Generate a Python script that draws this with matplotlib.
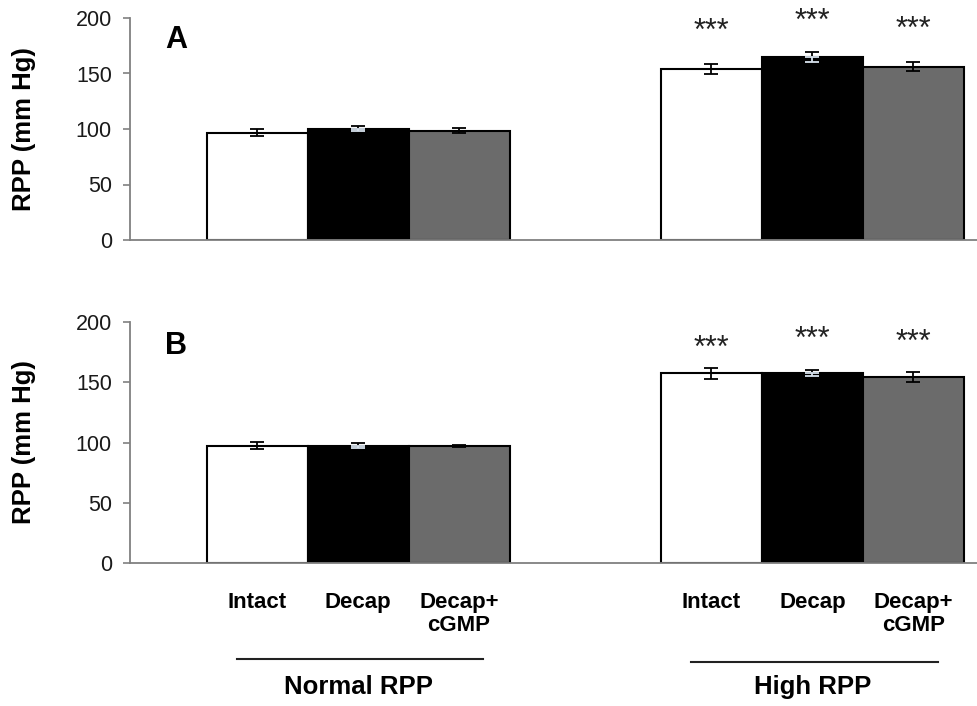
import matplotlib
matplotlib.use('Agg')
from matplotlib import pyplot
from matplotlib import transforms

pyplot.rcParams['font.family'] = ['Liberation Sans', 'DejaVu Sans']

groups = ['Normal RPP', 'High RPP']
treatments = ['Intact', 'Decap', 'Decap+\ncGMP']
colors = ['white', 'black', '#6b6b6b']

# panel A
a_normal = [96.7, 100.3, 98.5]
a_normal_err = [3.0, 2.5, 2.5]
a_high = [154.0, 165.0, 156.0]
a_high_err = [4.5, 4.5, 4.0]
a_star_gap = [29, 27, 29]

# panel B
b_normal = [97.4, 97.5, 97.2]
b_normal_err = [3.0, 2.0, 1.0]
b_high = [157.4, 158.0, 154.6]
b_high_err = [4.4, 2.5, 4.0]
b_star_gap = [16, 25, 24]

yticks = [0, 50, 100, 150, 200]
normal_pos = [1, 2, 3]
high_pos = [5.5, 6.5, 7.5]

W, H = 977, 706
fig = pyplot.figure(figsize=(W / 100, H / 100), dpi=100)


def px_axes(left, top, right, bottom):
    return fig.add_axes([left / W, 1 - bottom / H, (right - left) / W, (bottom - top) / H])


def draw_panel(ax, normal, normal_err, high, high_err, star_gap, letter):
    for pos, vals, errs in [(normal_pos, normal, normal_err), (high_pos, high, high_err)]:
        for x, v, e, c in zip(pos, vals, errs, colors):
            ax.bar(x, v, width=1.0, color=c, edgecolor='black', linewidth=1.5, zorder=2)
            ax.errorbar(x, v, yerr=[[0], [e]], color='black', capsize=5, capthick=1.3,
                        elinewidth=1.3, zorder=3)
            low_col = '#d8e2ee' if c == 'black' else 'black'
            ax.errorbar(x, v, yerr=[[e], [0]], color=low_col, capsize=5, capthick=1.3,
                        elinewidth=1.3, zorder=3)
    for x, v, e, g in zip(high_pos, high, high_err, star_gap):
        ax.text(x, v + e + g, '***', ha='center', va='center', fontsize=22,
                color='#222222', clip_on=False)
    ax.set_ylim(0, 200)
    ax.set_xlim(-0.26, 8.13)
    ax.set_yticks(yticks)
    ax.set_xticks([])
    for s in ['top', 'right']:
        ax.spines[s].set_visible(False)
    for s in ['left', 'bottom']:
        ax.spines[s].set_color('#808080')
        ax.spines[s].set_linewidth(1.3)
    ax.tick_params(axis='y', direction='out', length=5, width=1.2, color='#808080',
                   labelsize=15.5, pad=8, labelcolor='#1a1a1a')
    ax.set_ylabel('RPP (mm Hg)', fontsize=18.5, fontweight='bold')
    ax.yaxis.set_label_coords(-0.111, 0.5)
    ax.text(0.054, 0.9, letter, transform=ax.transAxes, fontsize=22, fontweight='bold',
            ha='center', va='center')


ax_a = px_axes(130, 18, 977, 240)
draw_panel(ax_a, a_normal, a_normal_err, a_high, a_high_err, a_star_gap, 'A')

ax_b = px_axes(130, 322, 977, 563)
draw_panel(ax_b, b_normal, b_normal_err, b_high, b_high_err, b_star_gap, 'B')

# category labels and group brackets below panel B
trans = transforms.blended_transform_factory(ax_b.transData, fig.transFigure)
for pos in [normal_pos, high_pos]:
    for x, lab in zip(pos, treatments):
        fig.text(x, 1 - 592 / H, lab, transform=trans, ha='center', va='top',
                 fontsize=16, fontweight='bold', linespacing=1.15)

for pos, name, ly in [(normal_pos, groups[0], 659), (high_pos, groups[1], 662)]:
    ax_b.plot([pos[0] - 0.2, pos[-1] + 0.24], [1 - ly / H] * 2, transform=trans,
              color='#222222', linewidth=1.5, clip_on=False)
    fig.text(pos[1], 1 - 687 / H, name, transform=trans, ha='center', va='center',
             fontsize=18.5, fontweight='bold')

fig.savefig('out.png', dpi=100)
pyplot.close(fig)
